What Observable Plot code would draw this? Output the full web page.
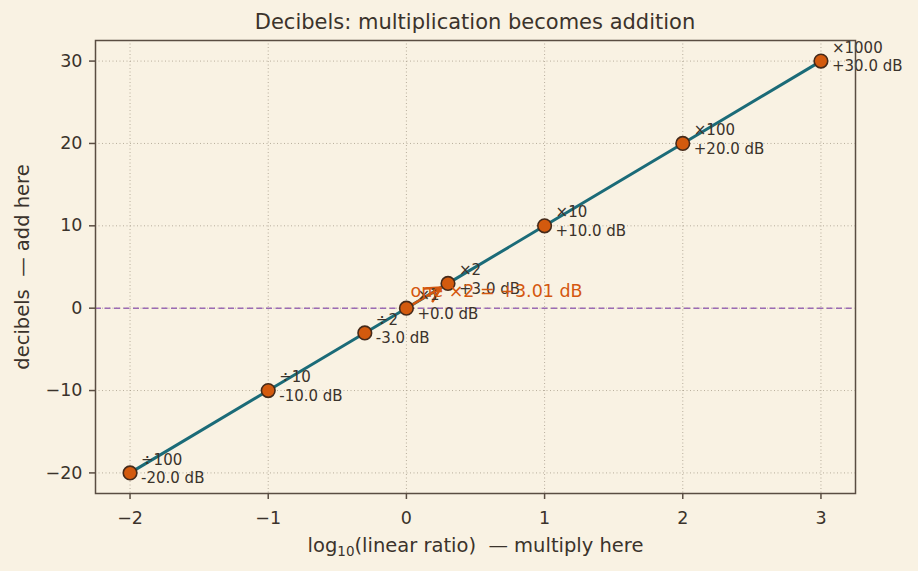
<!DOCTYPE html>
<html>
<head>
<meta charset="utf-8">
<script src="https://cdn.jsdelivr.net/npm/d3@7"></script>
<script src="https://cdn.jsdelivr.net/npm/@observablehq/plot@0.6"></script>
<style>
  html, body { margin: 0; padding: 0; background: #f9f2e3; }
  #title { height: 30px; box-sizing: border-box; padding-top: 12px; line-height: 20px;
    font-family: "DejaVu Sans", sans-serif; font-size: 21px; color: #3b332b; text-align: center;
    width: 918px; padding-left: 32px; white-space: nowrap; }
  #chart svg { display: block; }
  #chart text { white-space: pre; }
</style>
</head>
<body>
<div id="title">Decibels: multiplication becomes addition</div>
<div id="chart"></div>
<script>
const ratioLabels = ["÷100", "÷10", "÷2", "×1", "×2", "×10", "×100", "×1000"];
const log10Ratio = [-2, -1, -0.301, 0, 0.301, 1, 2, 3];
const decibels = [-20, -10, -3.01, 0, 3.01, 10, 20, 30];
const dbLabels = ["-20.0 dB", "-10.0 dB", "-3.0 dB", "+0.0 dB", "+3.0 dB", "+10.0 dB", "+20.0 dB", "+30.0 dB"];
const xTicks = [-2, -1, 0, 1, 2, 3];
const yTicks = [-20, -10, 0, 10, 20, 30];
const annotationText = ["one ×2 = +3.01 dB"];
const annotationPos = { x: 0.03, y: 2.0 };
const arrowFrom = { x: 0, y: 0 };
const arrowTo = { x: 0.301, y: 3.01 };
const xLabelParts = ["log", "10", "(linear ratio)  — multiply here"];
const yLabel = "decibels  — add here";

const points = log10Ratio.map((x, i) => ({ x, y: decibels[i], label: ratioLabels[i] + "\n" + dbLabels[i] }));
const fmt = d => (d < 0 ? "\u2212" : "") + Math.abs(d);
const xLabel = xLabelParts.join("");

const ink = "#3b332b";
const frameCol = "#5a4d42";

const chart = Plot.plot({
  width: 918,
  height: 541,
  marginTop: 10,
  marginBottom: 78,
  marginLeft: 95,
  marginRight: 63,
  style: { background: "#f9f2e3", fontFamily: "DejaVu Sans, sans-serif", color: ink },
  x: { domain: [-2.25, 3.25] },
  y: { domain: [-22.5, 32.5] },
  marks: [
    Plot.gridX(xTicks, { stroke: "#a39886", strokeOpacity: 0.85, strokeDasharray: "1,2.5", strokeWidth: 0.9 }),
    Plot.gridY(yTicks, { stroke: "#a39886", strokeOpacity: 0.85, strokeDasharray: "1,2.5", strokeWidth: 0.9 }),
    Plot.ruleY([0], { stroke: "#9b6bb3", strokeWidth: 1.5, strokeDasharray: "6,3.5" }),
    Plot.line(points, { x: "x", y: "y", stroke: "#1b6b78", strokeWidth: 3 }),
    Plot.arrow([{ x1: arrowFrom.x, y1: arrowFrom.y, x2: arrowTo.x, y2: arrowTo.y }], {
      x1: "x1", y1: "y1", x2: "x2", y2: "y2", stroke: "#d4570f", strokeWidth: 2.5,
      insetStart: 2, insetEnd: 8, headLength: 11, headAngle: 55
    }),
    Plot.dot(points, { x: "x", y: "y", r: 6.8, fill: "#d35a0e", stroke: "#452a1a", strokeWidth: 1.6 }),
    Plot.text(points, { x: "x", y: "y", text: "label", textAnchor: "start", dx: 11, dy: -5,
      fontSize: 15, lineHeight: 1.25, fill: ink }),
    Plot.text(annotationText, { x: () => annotationPos.x, y: () => annotationPos.y, text: d => d,
      textAnchor: "start", fontSize: 17.5, fill: "#d4570f" }),
    Plot.frame({ stroke: frameCol, strokeWidth: 1.5 }),
    Plot.axisX(xTicks, { tickSize: 6, tickPadding: 12, fontSize: 17.5, stroke: frameCol, strokeWidth: 1.5, fill: ink, tickFormat: fmt, label: null }),
    Plot.axisY(yTicks, { tickSize: 6, tickPadding: 7, fontSize: 17.5, stroke: frameCol, strokeWidth: 1.5, fill: ink, tickFormat: fmt, label: null }),
    Plot.text([xLabel], { frameAnchor: "bottom", dy: 58, text: d => d, fontSize: 19.5, fill: ink }),
    Plot.text([yLabel], { frameAnchor: "left", textAnchor: "middle", dx: -73, rotate: -90, text: d => d, fontSize: 19.5, fill: ink })
  ]
});
// render the "10" of log10 as a subscript, as in the reference
for (const t of chart.querySelectorAll("text")) {
  if (t.textContent === xLabel) {
    t.textContent = "";
    const ns = "http://www.w3.org/2000/svg";
    const a = document.createElementNS(ns, "tspan"); a.textContent = xLabelParts[0];
    const b = document.createElementNS(ns, "tspan"); b.textContent = xLabelParts[1];
    b.setAttribute("font-size", "13.5"); b.setAttribute("dy", "4");
    const c = document.createElementNS(ns, "tspan"); c.textContent = xLabelParts[2];
    c.setAttribute("dy", "-4");
    t.append(a, b, c);
  }
}
document.getElementById("chart").appendChild(chart);
</script>
</body>
</html>
